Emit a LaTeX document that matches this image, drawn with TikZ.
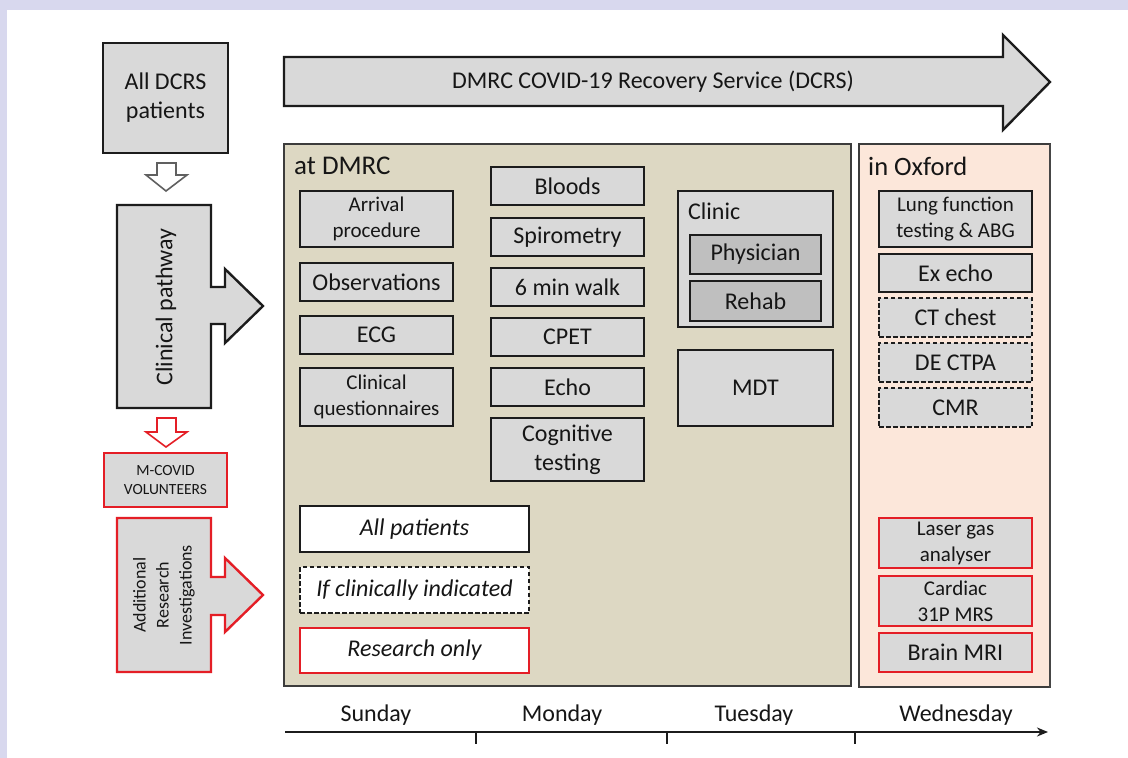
\documentclass[tikz,border=0pt]{standalone}
\usepackage{fontspec}
\setmainfont{Carlito}
\usetikzlibrary{arrows.meta}
\definecolor{lav}{HTML}{D8D8EE}
\definecolor{boxgray}{HTML}{D9D9D9}
\definecolor{darkgray2}{HTML}{BFBFBF}
\definecolor{boxline}{HTML}{1C1C1C}
\definecolor{txt}{HTML}{161616}
\definecolor{khaki}{HTML}{DDD8C3}
\definecolor{peach}{HTML}{FCE7DA}
\definecolor{redl}{HTML}{E41E26}
\definecolor{panelline}{HTML}{3C3C3C}
\tikzset{
  box/.style={draw=boxline, line width=2.2pt, fill=boxgray, align=center, inner sep=0pt, text=txt},
  dashbox/.style={box, line width=1.8pt, dash pattern=on 4.5pt off 2.5pt},
  redbox/.style={box, draw=redl},
  panel/.style={draw=panelline, line width=1.5pt},
  blockarrow/.style={draw=boxline, line width=2.4pt, fill=boxgray, line join=miter},
  lbl/.style={text=txt, inner sep=0pt},
}
\begin{document}
\begin{tikzpicture}[x=1pt,y=-1pt]
\useasboundingbox (0,0) rectangle (1128,758);
\fill[white] (0,0) rectangle (1128,758);
\fill[lav] (0,0) rectangle (1128,10);
\fill[lav] (0,0) rectangle (7,758);

% top arrow
\draw[blockarrow] (284,57) -- (1003,57) -- (1003,35) -- (1050,82) -- (1003,130) -- (1003,106) -- (284,106) -- cycle;
\node[lbl, font=\fontsize{24}{29}\selectfont] (dcrs) at (653,82) {DMRC COVID-19 Recovery Service (DCRS)};

% left column
\node[box, line width=2.6pt, minimum width=125pt, minimum height=110pt, font=\fontsize{24}{29}\selectfont] (all) at (165.5,98) {All DCRS\\patients};
\draw[draw=gray!75!black, line width=1.6pt, fill=white] (157,163) -- (176,163) -- (176,175) -- (187,175) -- (166,191) -- (146,175) -- (157,175) -- cycle;

\draw[blockarrow] (117,205) -- (211,205) -- (211,287) -- (225,287) -- (225,269) -- (263,306) -- (225,343) -- (225,324) -- (211,324) -- (211,408) -- (117,408) -- cycle;
\node[lbl, rotate=90, font=\fontsize{24}{29}\selectfont] (clin) at (166,307) {Clinical pathway};

\draw[draw=redl, line width=1.6pt, fill=white] (157,418) -- (176,418) -- (176,432) -- (187,432) -- (166,447) -- (146,432) -- (157,432) -- cycle;

\node[redbox, minimum width=123pt, minimum height=54pt, font=\fontsize{15.5}{19}\selectfont] (mcovid) at (165.5,480) {M-COVID\\VOLUNTEERS};

\draw[blockarrow, draw=redl] (117,518) -- (211,518) -- (211,577) -- (225,577) -- (225,558) -- (263,595) -- (225,632) -- (225,615) -- (211,615) -- (211,672) -- (117,672) -- cycle;
\node[lbl, rotate=90, align=center, font=\fontsize{18}{23}\selectfont] (addres) at (164,595) {Additional\\Research\\Investigations};

% panels
\draw[panel, fill=khaki] (284,144) rectangle (851,686);
\draw[panel, fill=peach] (859,144) rectangle (1050,687);
\draw[line width=2.8pt, draw=gray!55!black] (1050,144) -- (1050,688);

\node[lbl, anchor=west, font=\fontsize{27}{32}\selectfont] (atdmrc) at (294,166) {at DMRC};
\node[lbl, anchor=west, font=\fontsize{26.5}{32}\selectfont] (oxf) at (868,166) {in Oxford};

% column 1
\node[box, minimum width=153pt, minimum height=56pt, font=\fontsize{21}{26}\selectfont] (arr) at (376.5,219) {Arrival\\procedure};
\node[box, minimum width=153pt, minimum height=38pt, font=\fontsize{24}{29}\selectfont] (obs) at (376.5,282) {Observations};
\node[box, minimum width=153pt, minimum height=38pt, font=\fontsize{24}{29}\selectfont] (ecg) at (376.5,335) {ECG};
\node[box, minimum width=153pt, minimum height=58pt, font=\fontsize{21}{26}\selectfont] (quest) at (376.5,397) {Clinical\\questionnaires};

% column 2
\node[box, minimum width=153pt, minimum height=38pt, font=\fontsize{24}{29}\selectfont] (bloods) at (567.5,186) {Bloods};
\node[box, minimum width=153pt, minimum height=38pt, font=\fontsize{24}{29}\selectfont] (spiro) at (567.5,237) {Spirometry};
\node[box, minimum width=153pt, minimum height=38pt, font=\fontsize{24}{29}\selectfont] (walk) at (567.5,287) {6 min walk};
\node[box, minimum width=153pt, minimum height=38pt, font=\fontsize{24}{29}\selectfont] (cpet) at (567.5,337) {CPET};
\node[box, minimum width=153pt, minimum height=38pt, font=\fontsize{24}{29}\selectfont] (echo) at (567.5,387) {Echo};
\node[box, minimum width=153pt, minimum height=63pt, font=\fontsize{24}{29}\selectfont] (cog) at (567.5,449.5) {Cognitive\\testing};

% column 3
\node[box, minimum width=155pt, minimum height=136pt] (clinic) at (755.5,259) {};
\node[lbl, anchor=west, font=\fontsize{24}{29}\selectfont] (clinict) at (688,211) {Clinic};
\node[box, fill=darkgray2, minimum width=131pt, minimum height=39pt, font=\fontsize{24}{29}\selectfont] (phys) at (755.5,254.5) {Physician};
\node[box, fill=darkgray2, minimum width=131pt, minimum height=40pt, font=\fontsize{24}{29}\selectfont] (rehab) at (755.5,301) {Rehab};
\node[box, minimum width=155pt, minimum height=76pt, font=\fontsize{24}{29}\selectfont] (mdt) at (755.5,388) {MDT};

% Oxford column
\node[box, minimum width=153pt, minimum height=56pt, font=\fontsize{21}{26}\selectfont] (lung) at (955.5,219) {Lung function\\testing \& ABG};
\node[box, minimum width=153pt, minimum height=38pt, font=\fontsize{24}{29}\selectfont] (execho) at (955.5,273) {Ex echo};
\node[dashbox, minimum width=153pt, minimum height=39pt, font=\fontsize{24}{29}\selectfont] (ct) at (955.5,317.5) {CT chest};
\node[dashbox, minimum width=153pt, minimum height=39pt, font=\fontsize{24}{29}\selectfont] (ctpa) at (955.5,362.5) {DE CTPA};
\node[dashbox, minimum width=153pt, minimum height=39pt, font=\fontsize{24}{29}\selectfont] (cmr) at (955.5,407.5) {CMR};

\node[redbox, minimum width=153pt, minimum height=50pt, font=\fontsize{21}{26}\selectfont] (laser) at (955.5,543) {Laser gas\\analyser};
\node[redbox, minimum width=153pt, minimum height=50pt, font=\fontsize{21}{26}\selectfont] (mrs) at (955.5,601) {Cardiac\\31P MRS};
\node[redbox, minimum width=153pt, minimum height=39pt, font=\fontsize{24}{29}\selectfont] (brain) at (955.5,652.5) {Brain MRI};

% legend
\node[box, fill=white, minimum width=229pt, minimum height=46pt, font=\fontsize{24}{29}\selectfont\itshape] (lgall) at (414.5,529) {All patients};
\node[dashbox, fill=white, minimum width=229pt, minimum height=46pt, font=\fontsize{24}{29}\selectfont\itshape] (lgif) at (414.5,590) {If clinically indicated};
\node[redbox, fill=white, minimum width=229pt, minimum height=45pt, font=\fontsize{24}{29}\selectfont\itshape] (lgres) at (414.5,650.5) {Research only};

% time axis
\coordinate (ax0) at (285,732);
\coordinate (ax1) at (1048,732);
\draw[line width=1.8pt, draw=boxline, -{Stealth[length=11pt,width=9pt]}] (ax0) -- (ax1);
\foreach \tx/\nm in {476/t1, 667/t2, 855/t3} {
  \coordinate (\nm a) at (\tx,732);
  \coordinate (\nm b) at (\tx,744);
  \draw[line width=1.4pt, draw=boxline] (\nm a) -- (\nm b);
}
\node[lbl, font=\fontsize{24}{29}\selectfont] (sun) at (376,715) {Sunday};
\node[lbl, font=\fontsize{24}{29}\selectfont] (mon) at (562,715) {Monday};
\node[lbl, font=\fontsize{24}{29}\selectfont] (tue) at (754,715) {Tuesday};
\node[lbl, font=\fontsize{24}{29}\selectfont] (wed) at (956,715) {Wednesday};
\end{tikzpicture}
\end{document}
